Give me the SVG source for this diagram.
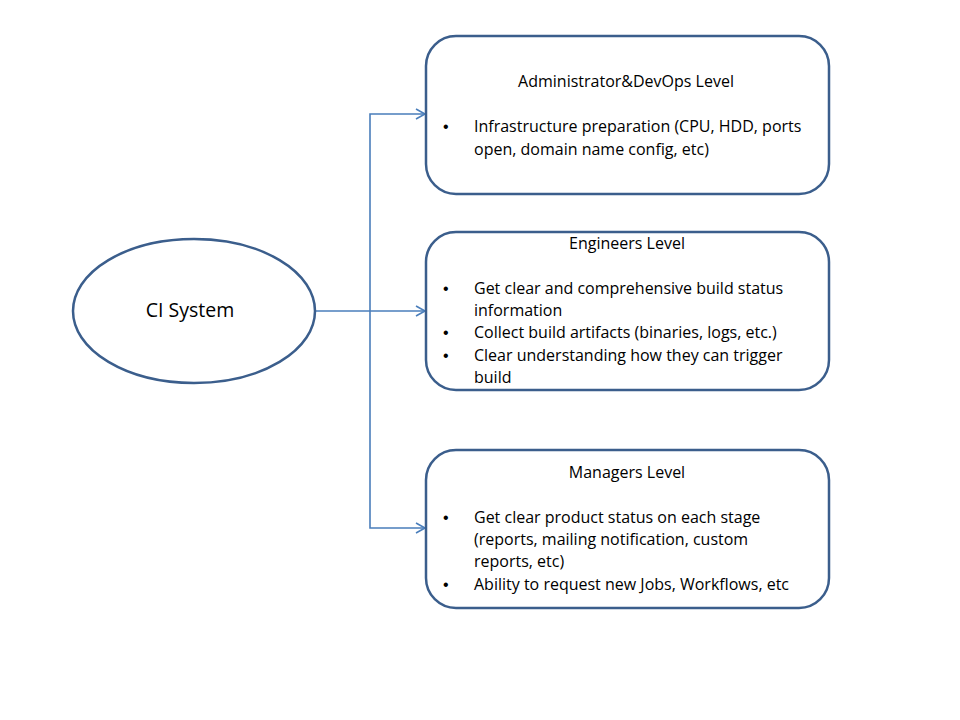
<svg xmlns="http://www.w3.org/2000/svg" width="960" height="720" viewBox="0 0 960 720">
<defs>
<style>
.box{fill:#fff;stroke:#3B5E8C;stroke-width:2.5}
.t{font-family:"Open Sans","Liberation Sans",sans-serif;font-size:16px;fill:#000}
.c{text-anchor:middle}
.b{font-family:"Liberation Sans",sans-serif;font-size:16px;fill:#000}
.conn{fill:none;stroke:#4A7EBB;stroke-width:1.6}
</style>
<marker id="arr" markerWidth="12" markerHeight="12" refX="10" refY="6" orient="auto" markerUnits="userSpaceOnUse">
<path d="M1,1 L10,6 L1,11" fill="none" stroke="#4A7EBB" stroke-width="1.6"/>
</marker>
</defs>
<rect width="960" height="720" fill="#fff"/>
<g id="connectors">
<path class="conn" d="M315,311 H425" marker-end="url(#arr)"/>
<path class="conn" d="M370,311 V114 H425" marker-end="url(#arr)"/>
<path class="conn" d="M370,311 V528 H425" marker-end="url(#arr)"/>
</g>
<g id="ci">
<ellipse class="box" cx="194" cy="311" rx="121" ry="72"/>
<text class="t c" x="190" y="317" style="font-size:19.5px">CI System</text>
</g>
<g id="admin">
<rect class="box" x="426" y="36" width="403" height="158" rx="30"/>
<text class="t c" x="626" y="87">Administrator&amp;DevOps Level</text>
<text class="b" x="443" y="132">•</text>
<text class="t" x="474" y="132">Infrastructure preparation (CPU, HDD, ports</text>
<text class="t" x="474" y="155">open, domain name config, etc)</text>
</g>
<g id="engineers">
<rect class="box" x="426" y="232" width="403" height="158" rx="30"/>
<text class="t c" x="627" y="249">Engineers Level</text>
<text class="b" x="443" y="294">•</text>
<text class="t" x="474" y="294">Get clear and comprehensive build status</text>
<text class="t" x="474" y="316">information</text>
<text class="b" x="443" y="338">•</text>
<text class="t" x="474" y="338">Collect build artifacts (binaries, logs, etc.)</text>
<text class="b" x="443" y="361">•</text>
<text class="t" x="474" y="361">Clear understanding how they can trigger</text>
<text class="t" x="474" y="383">build</text>
</g>
<g id="managers">
<rect class="box" x="426" y="450" width="403" height="158" rx="30"/>
<text class="t c" x="627" y="478">Managers Level</text>
<text class="b" x="443" y="523">•</text>
<text class="t" x="474" y="523">Get clear product status on each stage</text>
<text class="t" x="474" y="545">(reports, mailing notification, custom</text>
<text class="t" x="474" y="567">reports, etc)</text>
<text class="b" x="443" y="590">•</text>
<text class="t" x="474" y="590">Ability to request new Jobs, Workflows, etc</text>
</g>
</svg>
